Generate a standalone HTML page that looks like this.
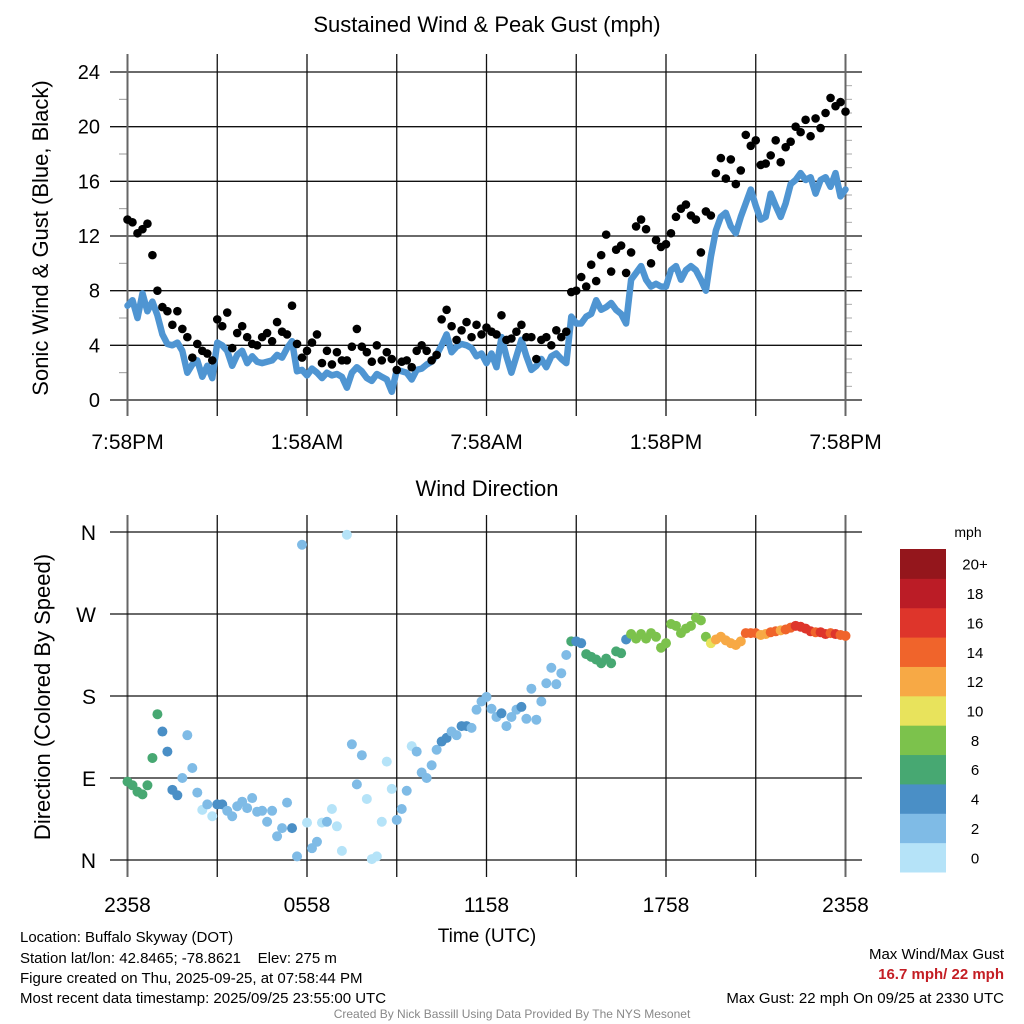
<!DOCTYPE html>
<html><head><meta charset="utf-8"><style>
html,body{margin:0;padding:0;background:#fff;}
svg{display:block;font-family:"Liberation Sans",sans-serif;}
</style></head><body>
<svg id="chart" width="1024" height="1024" viewBox="0 0 1024 1024">
<g id="topPanel"></g>
<g id="botPanel"></g>
<g id="cbarPanel"></g>
<text x="487" y="32" font-size="22" text-anchor="middle">Sustained Wind &amp; Peak Gust (mph)</text>
<text x="487" y="496" font-size="22" text-anchor="middle">Wind Direction</text>
<text transform="translate(48,238) rotate(-90)" font-size="22" text-anchor="middle">Sonic Wind &amp; Gust (Blue, Black)</text>
<text transform="translate(50,697) rotate(-90)" font-size="22" text-anchor="middle">Direction (Colored By Speed)</text>
<text x="487" y="942" font-size="19" text-anchor="middle">Time (UTC)</text>
<text x="968" y="537" font-size="14" text-anchor="middle">mph</text>
<g font-size="15">
<text x="20" y="942">Location: Buffalo Skyway (DOT)</text>
<text x="20" y="963">Station lat/lon: 42.8465; -78.8621 &#160;&#160;&#160;Elev: 275 m</text>
<text x="20" y="983">Figure created on Thu, 2025-09-25, at 07:58:44 PM</text>
<text x="20" y="1003">Most recent data timestamp: 2025/09/25 23:55:00 UTC</text>
</g>
<text x="1004" y="959" font-size="15" text-anchor="end">Max Wind/Max Gust</text>
<text x="1004" y="979" font-size="15" font-weight="bold" fill="#c41e24" text-anchor="end">16.7 mph/ 22 mph</text>
<text x="1004" y="1003" font-size="15" text-anchor="end">Max Gust: 22 mph On 09/25 at 2330 UTC</text>
<text x="512" y="1018" font-size="12" fill="#888" text-anchor="middle">Created By Nick Bassill Using Data Provided By The NYS Mesonet</text>
</svg>
<script>
const wind=[6.9,7.3,6.0,7.8,6.5,7.2,6.2,4.8,4.1,4.0,4.2,3.6,2.0,2.6,2.9,1.7,2.5,1.6,4.2,4.0,3.6,2.5,3.3,3.6,2.7,3.2,2.8,2.7,2.8,2.9,3.3,3.1,3.8,4.3,2.1,2.2,1.8,2.3,2.0,1.6,2.0,1.8,1.9,1.7,0.9,2.0,2.4,2.1,1.6,1.4,1.9,1.7,1.5,0.6,2.2,2.1,2.0,1.5,2.2,2.3,2.6,2.8,3.3,4.0,4.8,3.5,3.9,4.1,4.0,3.8,3.2,3.4,2.7,3.4,2.4,4.6,3.2,2.0,3.2,4.4,3.2,2.2,2.5,3.0,2.4,3.2,3.4,3.0,2.7,6.1,5.6,5.6,6.1,6.3,7.3,6.6,6.8,7.1,6.6,6.3,5.6,8.8,9.3,9.8,8.8,8.3,8.5,8.3,8.3,9.5,9.8,8.8,9.5,9.8,9.5,8.8,8.0,10.5,12.4,13.4,13.7,12.7,12.2,13.4,14.4,15.4,14.2,13.2,13.4,15.1,14.2,13.4,14.4,15.8,16.1,16.6,16.1,16.3,15.1,16.1,16.3,15.6,16.6,14.9,15.4];
const gust=[13.2,13.0,12.2,12.5,12.9,10.6,8.0,6.8,6.5,5.5,6.5,5.2,4.6,3.1,4.1,3.6,3.4,2.9,5.9,5.4,6.4,3.8,4.9,5.4,4.6,4.1,4.0,4.6,4.9,4.3,5.7,5.0,4.8,6.9,4.1,3.1,3.6,4.2,4.8,2.7,3.6,2.6,3.5,2.9,2.9,3.9,5.2,3.9,3.5,2.8,4.0,2.9,3.5,3.0,2.2,2.8,2.9,2.4,3.6,4.0,3.6,2.9,3.3,5.9,6.6,5.4,4.4,5.1,5.7,4.6,5.5,4.8,5.3,5.0,4.8,6.2,4.4,4.5,5.0,5.5,4.6,4.6,3.0,4.4,4.6,4.0,5.1,4.6,5.0,7.9,8.0,9.0,8.3,9.9,8.7,10.6,12.1,9.4,11.0,11.3,9.3,10.8,12.7,13.2,12.5,10.0,11.7,11.2,11.4,12.2,13.4,14.0,14.3,13.5,13.2,10.8,13.8,13.5,16.6,17.7,16.2,17.6,15.8,16.8,19.4,18.6,19.0,17.2,17.3,17.9,19.0,17.4,18.5,18.9,20.0,19.6,20.5,19.3,20.6,19.9,21.0,22.1,21.5,21.8,21.1];
const dir=[86,82,75,72,82,112,160,141,119,77,71,90,137,101,74,55,61,48,61,61,54,48,59,64,57,68,53,54,42,54,26,35,63,35,4,346,41,13,20,41,42,56,37,10,357,127,83,115,67,1,4,42,108,78,44,56,76,125,119,96,90,104,121,130,134,141,137,147,147,145,165,174,179,166,157,161,147,157,165,168,155,188,154,174,194,211,193,205,225,240,240,238,226,223,220,216,221,216,229,227,242,248,243,248,243,249,245,233,238,259,257,249,254,257,266,263,245,238,242,245,241,238,236,240,249,249,249,247,248,250,251,252,253,255,257,256,254,251,250,250,248,249,248,247,246];
const windTicks=[0,4,8,12,16,20,24];
const topXLabels=["7:58PM","1:58AM","7:58AM","1:58PM","7:58PM"];
const botXLabels=["2358","0558","1158","1758","2358"];
const dirTicks=[0,90,180,270,360];
const dirLabels=["N","E","S","W","N"];
const cbLabels=["0","2","4","6","8","10","12","14","16","18","20+"];
const cbColors=["#b5e3f8","#7fbbe6","#4a8fc6","#47a872","#7cc24c","#e8e35c","#f7a945","#f0642b","#de352b","#bb1c26","#94161c"];

const NS="http://www.w3.org/2000/svg";
function mk(p,t,a){const e=document.createElementNS(NS,t);for(const k in a)e.setAttribute(k,a[k]);p.appendChild(e);return e;}
const X0=127.5,X1=845.5;
const xs=i=>X0+(X1-X0)*i/(wind.length-1);
const yTop=v=>400-v*(328/24);
const yDir=d=>860-d*(328/360);
const topG=document.getElementById('topPanel'),botG=document.getElementById('botPanel'),cbG=document.getElementById('cbarPanel');

for(let v=0;v<=24;v++){
  if(v%2===0&&v%4!==0){const t=mk(topG,'line',{x1:119,x2:127,y1:yTop(v),y2:yTop(v),stroke:'#999','stroke-width':1});
  }
  const r=mk(topG,'line',{x1:845,x2:852,y1:yTop(v),y2:yTop(v),stroke:'#aaa','stroke-width':1});
  
}
windTicks.forEach(v=>{
  const l=mk(topG,'line',{x1:110,x2:862,y1:yTop(v),y2:yTop(v),stroke:'#111','stroke-width':1.3});
  
  const t=mk(topG,'text',{x:100,y:yTop(v)+7,'font-size':20,'text-anchor':'end'});t.textContent=v;
  
});
for(let k=0;k<=8;k++){
  const x=X0+(X1-X0)*k/8;
  const edge=(k===0||k===8);
  const l=mk(topG,'line',{x1:x,x2:x,y1:54,y2:416,stroke:edge?'#666':'#111','stroke-width':edge?2:1.3});
  
  const l2=mk(botG,'line',{x1:x,x2:x,y1:515,y2:877,stroke:edge?'#666':'#111','stroke-width':edge?2:1.3});
  
}
topXLabels.forEach((s,k)=>{
  const t=mk(topG,'text',{x:X0+(X1-X0)*k/4,y:449,'font-size':21,'text-anchor':'middle'});t.textContent=s;
  
});
let d='';wind.forEach((v,i)=>{d+=(i?'L':'M')+xs(i).toFixed(1)+' '+yTop(v).toFixed(1);});
const wl=mk(topG,'path',{d:d,fill:'none',stroke:'#4f95d2','stroke-width':6.5,'stroke-linejoin':'round','stroke-linecap':'round'});


gust.forEach((v,i)=>{
  const c=mk(topG,'circle',{cx:xs(i),cy:yTop(v),r:4.3,fill:'#000'});
  
  
});
dirTicks.forEach((v,k)=>{
  const l=mk(botG,'line',{x1:110,x2:862,y1:yDir(v),y2:yDir(v),stroke:'#111','stroke-width':1.3});
  
  const t=mk(botG,'text',{x:96,y:yDir(v)+8,'font-size':21,'text-anchor':'end'});t.textContent=dirLabels[k];
  
});
botXLabels.forEach((s,k)=>{
  const t=mk(botG,'text',{x:X0+(X1-X0)*k/4,y:912,'font-size':21,'text-anchor':'middle'});t.textContent=s;
  
});
const colorFor=s=>cbColors[Math.max(0,Math.min(10,Math.floor(s/2)))];
dir.forEach((v,i)=>{
  const c=mk(botG,'circle',{cx:xs(i),cy:yDir(v),r:5,fill:colorFor(wind[i])});
  
  
});
const cbTop=549,cbH=(872-549)/cbColors.length;
cbColors.forEach((col,k)=>{
  const y=cbTop+(cbColors.length-1-k)*cbH;
  const r=mk(cbG,'rect',{x:900,y:y,width:46,height:cbH+0.5,fill:col});
  
  const t=mk(cbG,'text',{x:975,y:y+cbH/2+6,'font-size':15,'text-anchor':'middle'});t.textContent=cbLabels[k];
  
});
</script>
</body></html>
